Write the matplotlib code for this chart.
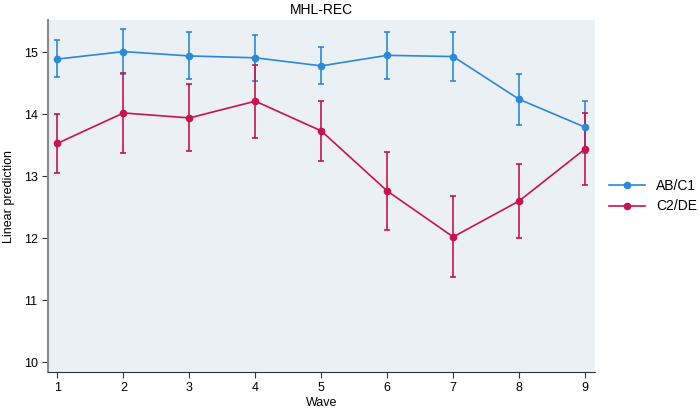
import matplotlib.pyplot as plt
from matplotlib.lines import Line2D
import numpy as np

plt.rcParams['font.family'] = ['Liberation Sans', 'DejaVu Sans']

waves = [1, 2, 3, 4, 5, 6, 7, 8, 9]

# AB/C1 predictions and 95% CI
abc1 = [14.89, 15.01, 14.94, 14.91, 14.78, 14.95, 14.93, 14.24, 13.79]
abc1_lo = [14.60, 14.65, 14.57, 14.54, 14.49, 14.57, 14.54, 13.83, 13.37]
abc1_hi = [15.19, 15.37, 15.32, 15.28, 15.08, 15.33, 15.32, 14.65, 14.22]

# C2/DE predictions and 95% CI
c2de = [13.53, 14.02, 13.94, 14.21, 13.73, 12.76, 12.02, 12.60, 13.44]
c2de_lo = [13.05, 13.38, 13.40, 13.62, 13.24, 12.13, 11.37, 12.01, 12.86]
c2de_hi = [14.01, 14.66, 14.48, 14.80, 14.21, 13.39, 12.68, 13.19, 14.02]

blue = '#2a89d8'
red = '#c8134f'

fig = plt.figure(figsize=(7, 4.12), dpi=100)
ax = fig.add_axes([48 / 700, 1 - 372 / 412, 547 / 700, 352 / 412])
ax.set_facecolor('#eaf0f3')


def draw(y, lo, hi, color):
    y = np.array(y)
    err = [y - np.array(lo), np.array(hi) - y]
    ax.errorbar(waves, y, yerr=err, color=color, marker='o', markersize=4.5,
                lw=1.2, elinewidth=1.2, capsize=2.5, capthick=1.2)


draw(abc1, abc1_lo, abc1_hi, blue)
draw(c2de, c2de_lo, c2de_hi, red)

ax.set_xlim(0.856, 9.15)
ax.set_ylim(9.84, 15.52)
ax.set_xticks(waves)
ax.set_yticks([10, 11, 12, 13, 14, 15])
ax.tick_params(labelsize=9, length=4, color='#333333')
ax.set_xlabel('Wave', fontsize=9, labelpad=2)
ax.set_ylabel('Linear prediction', fontsize=9, labelpad=6)
ax.set_title('MHL-REC', fontsize=10, pad=4)

for s in ['top', 'right']:
    ax.spines[s].set_visible(False)
ax.spines['left'].set_color('#888888')
ax.spines['left'].set_linewidth(1.5)
ax.spines['bottom'].set_color('#333333')

handles = [Line2D([], [], color=blue, marker='o', markersize=4.5, lw=1.2),
           Line2D([], [], color=red, marker='o', markersize=4.5, lw=1.2)]
ax.legend(handles, ['AB/C1', 'C2/DE'], loc='center left',
          bbox_to_anchor=(1.0, 0.5), frameon=False,
          fontsize=10, handlelength=2.6, borderaxespad=0.6)

fig.savefig('out.png', dpi=100)
